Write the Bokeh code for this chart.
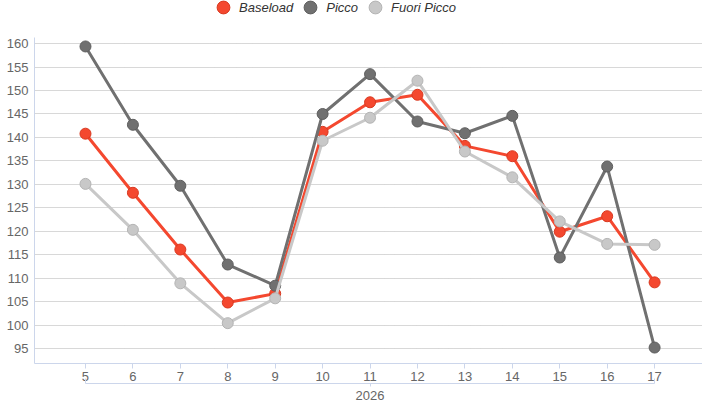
from bokeh.plotting import figure
from bokeh.models import FixedTicker, LinearAxis, Legend, LegendItem, ColumnDataSource
from bokeh.embed import file_html
from bokeh.resources import INLINE

# ---- data ----
weeks = [5, 6, 7, 8, 9, 10, 11, 12, 13, 14, 15, 16, 17]
baseload = [140.8, 128.2, 116.1, 104.8, 106.7, 141.2, 147.5, 149.1, 138.2, 136.0, 119.9, 123.2, 109.1]
picco = [159.4, 142.7, 129.7, 112.9, 108.4, 145.0, 153.5, 143.4, 140.9, 144.6, 114.4, 133.8, 95.2]
fuori_picco = [130.1, 120.3, 108.9, 100.4, 105.7, 139.3, 144.2, 152.1, 137.0, 131.5, 122.1, 117.3, 117.1]
series_names = ["Baseload", "Picco", "Fuori Picco"]
year_label = "2026"
y_ticks = [95, 100, 105, 110, 115, 120, 125, 130, 135, 140, 145, 150, 155, 160]

colors = ["#f4482f", "#707070", "#c8c8c8"]
edges = ["#d9381f", "#5e5e5e", "#b4b4b4"]
FONT = "Liberation Sans"

# plot area keeps room at the top for the legend; the y axis line is bounded
y_axis_top = 161.34
p = figure(width=702, height=410, x_range=(3.925, 18.01), y_range=(91.8, 169.2),
           output_backend="svg", toolbar_location=None,
           min_border_left=34, min_border_right=0, min_border_top=0, min_border_bottom=47)
p.outline_line_color = None
p.background_fill_color = "white"
p.border_fill_color = "white"

# grid
p.xgrid.grid_line_color = None
p.ygrid.grid_line_color = "#b0b0b0"
p.ygrid.grid_line_dash = "1 1"
p.ygrid.grid_line_width = 1

# y axis
ya = p.yaxis[0]
ya.ticker = FixedTicker(ticks=y_ticks)
ya.bounds = (91.8, y_axis_top)
ya.axis_line_color = "#ccd6eb"
ya.major_tick_line_color = None
ya.minor_tick_line_color = None
ya.major_tick_out = 0
ya.major_tick_in = 0
ya.minor_tick_out = 0
ya.minor_tick_in = 0
ya.major_label_standoff = 6
ya.major_label_text_font = FONT
ya.major_label_text_font_size = "13px"
ya.major_label_text_color = "#666666"

# x axis
xa = p.xaxis[0]
xa.ticker = FixedTicker(ticks=weeks)
xa.axis_line_color = "#ccd6eb"
xa.major_tick_line_color = "#ccd6eb"
xa.major_tick_out = 5
xa.major_tick_in = 0
xa.minor_tick_line_color = None
xa.minor_tick_out = 0
xa.minor_tick_in = 0
xa.major_label_standoff = 3
xa.major_label_text_font = FONT
xa.major_label_text_font_size = "13px"
xa.major_label_text_color = "#666666"

# group (year) bracket axis
mid = weeks[len(weeks) // 2]
xa2 = LinearAxis(ticker=FixedTicker(ticks=[mid], minor_ticks=[weeks[0], weeks[-1]]),
                 bounds=(weeks[0], weeks[-1]),
                 major_label_overrides={mid: year_label})
xa2.axis_line_color = "#ccd6eb"
xa2.major_tick_line_color = "#ccd6eb"
xa2.major_tick_out = 3
xa2.major_tick_in = 0
xa2.minor_tick_line_color = "#ccd6eb"
xa2.minor_tick_in = 5
xa2.minor_tick_out = 0
xa2.major_label_standoff = 4
xa2.major_label_text_font = FONT
xa2.major_label_text_font_size = "13px"
xa2.major_label_text_color = "#666666"
p.add_layout(xa2, "below")

items = []
for name, vals, c, e in zip(series_names, [baseload, picco, fuori_picco], colors, edges):
    src = ColumnDataSource(dict(x=weeks, y=vals))
    p.line("x", "y", source=src, line_color=c, line_width=3)
    r = p.scatter("x", "y", source=src, size=11, fill_color=c, line_color=e, line_width=1)
    items.append(LegendItem(label=name, renderers=[r]))

legend = Legend(items=items, location=(173, 340), orientation="horizontal",
                glyph_width=32, glyph_height=32, label_standoff=0, spacing=1,
                padding=0, margin=0, border_line_color=None, background_fill_alpha=0,
                label_text_font=FONT, label_text_font_size="13px",
                label_text_font_style="italic", label_text_color="#333333")
p.add_layout(legend, "center")

open("out.html", "w").write(file_html(p, INLINE))
